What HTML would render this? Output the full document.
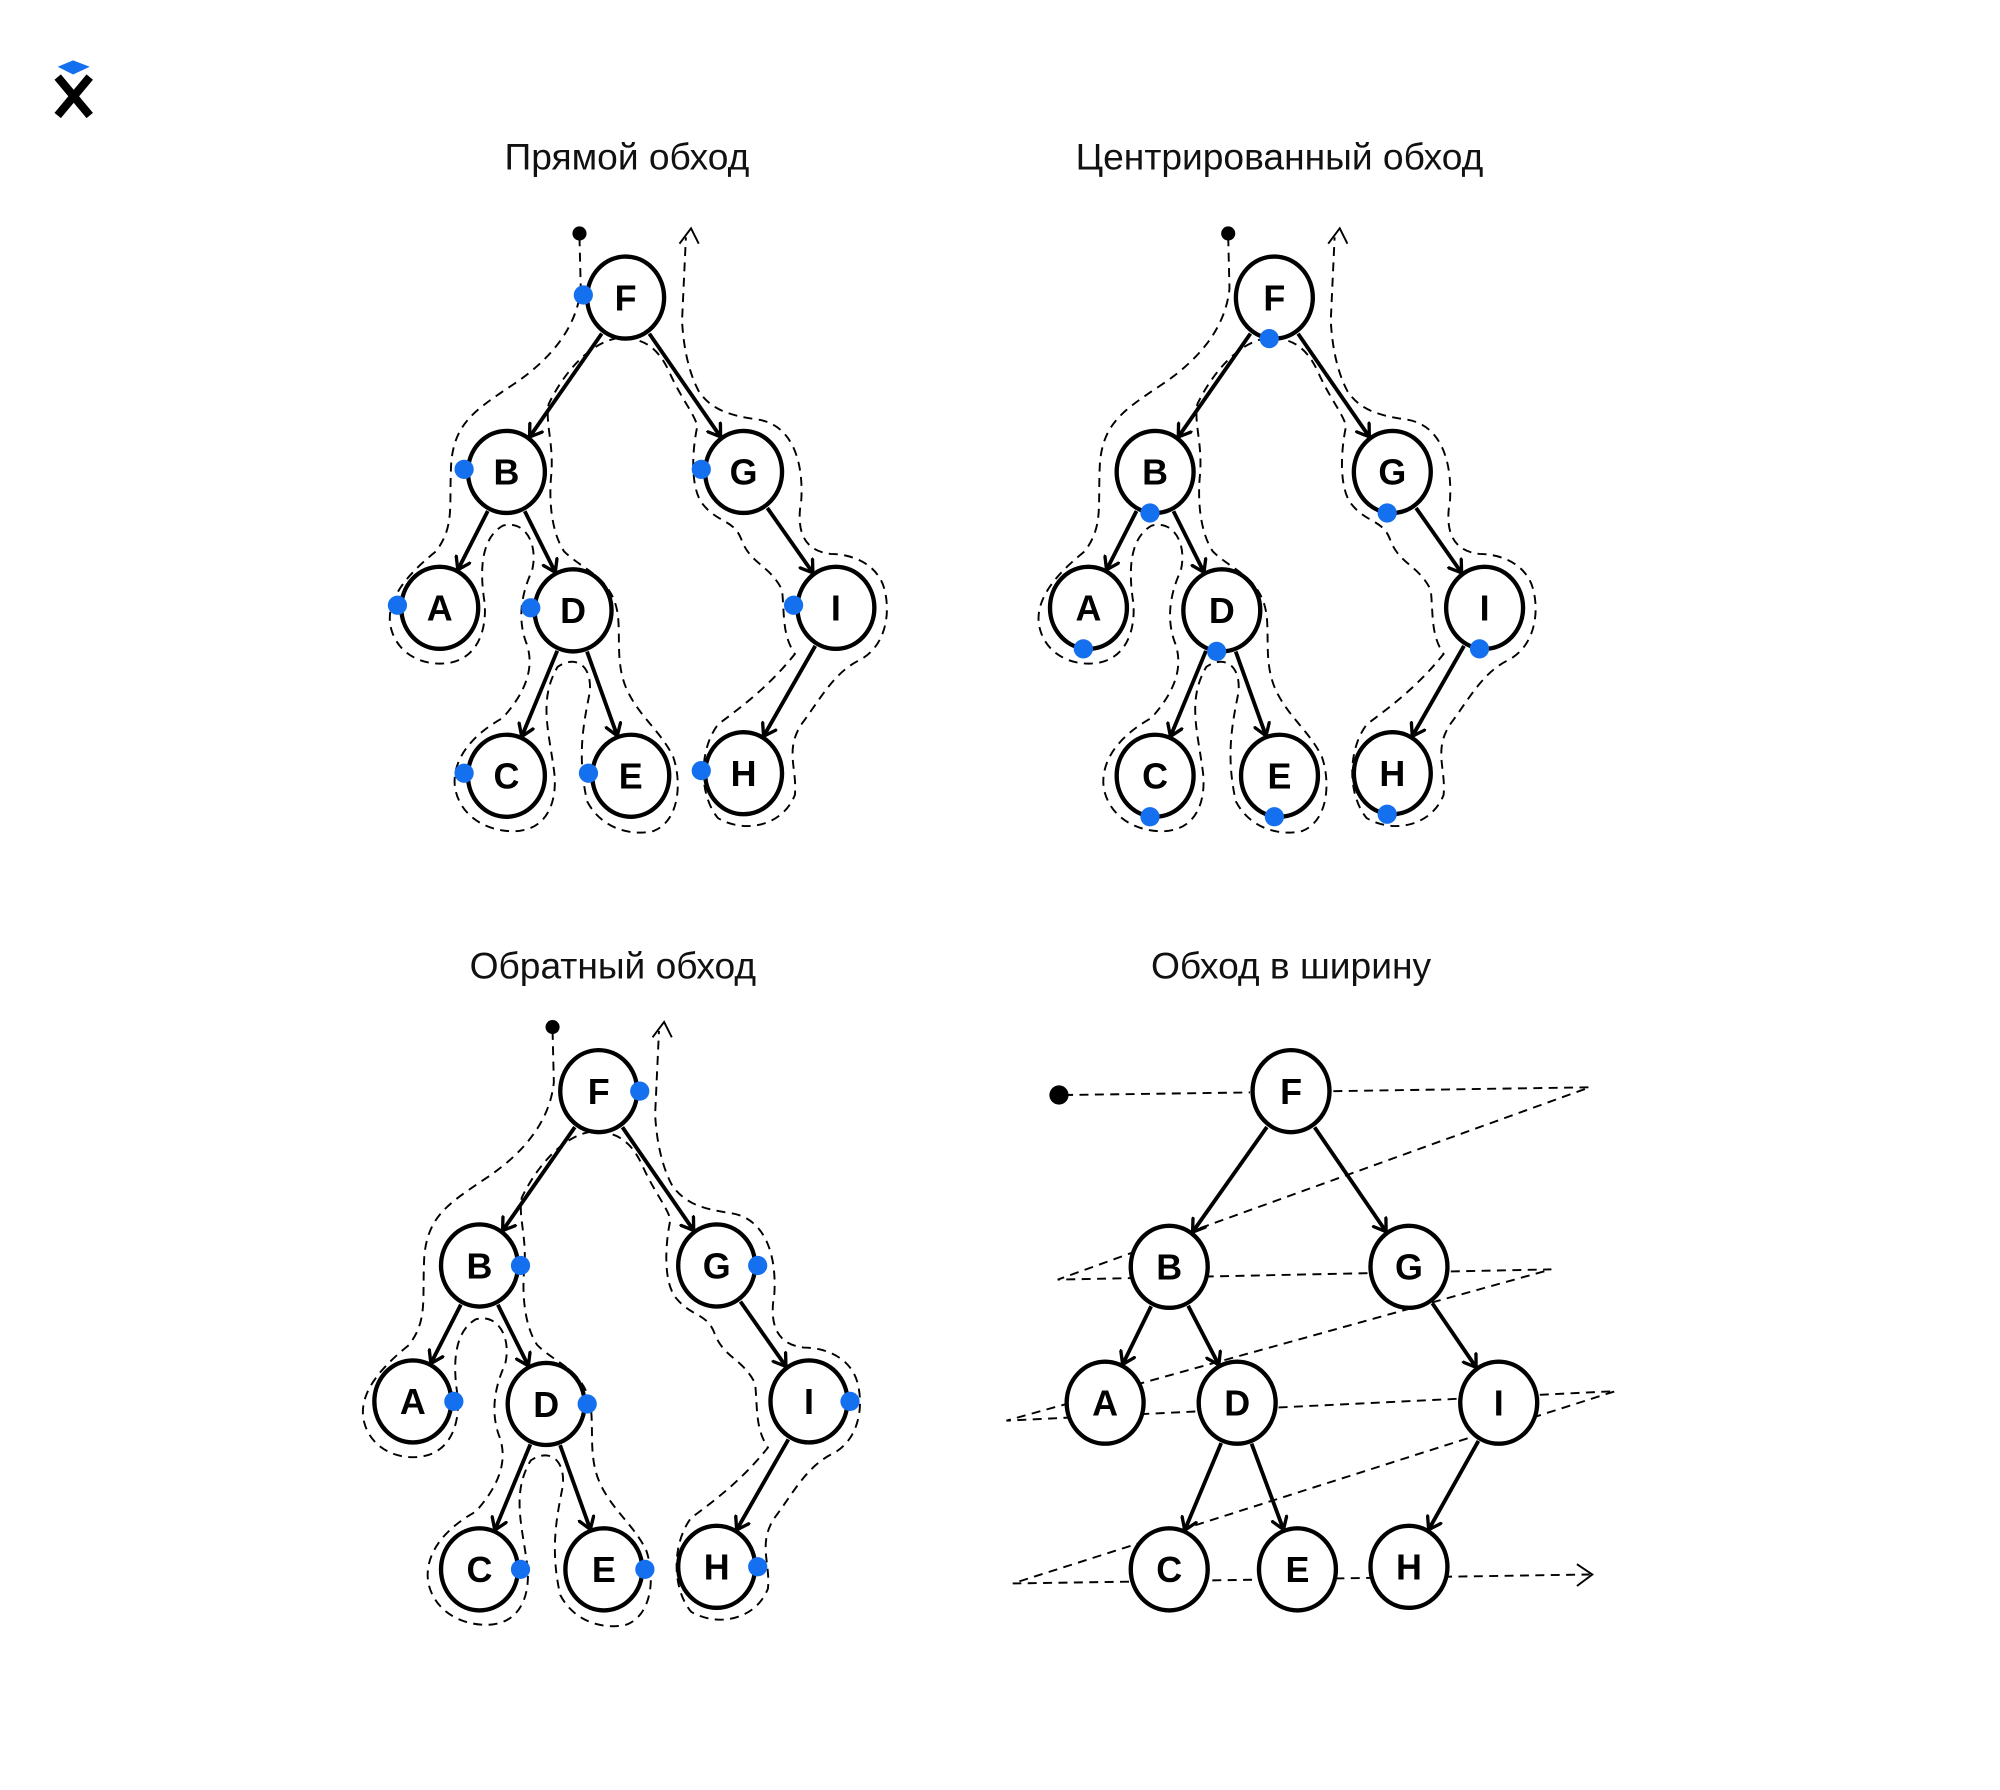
<!DOCTYPE html>
<html><head><meta charset="utf-8"><style>
html,body{margin:0;padding:0;background:#fff;}
svg{display:block}
</style></head><body>
<svg id="s" width="2000" height="1790" viewBox="0 0 1560 1396" xmlns="http://www.w3.org/2000/svg">
<defs>
<marker id="ar" markerWidth="14" markerHeight="14" refX="10" refY="7" orient="auto" markerUnits="userSpaceOnUse">
<path d="M1,1 L10,7 L1,13" fill="none" stroke="#000" stroke-width="2.6" stroke-linecap="round" stroke-linejoin="round"/>
</marker>
<g id="contour" fill="none" stroke="#000" stroke-width="1.5" stroke-dasharray="7,5">
<path d="M452,185 L453,225 C450,255 430,280 400,300 C370,320 355,330 352,360 C350,395 355,410 340,430 C315,450 300,470 305,490 C310,510 330,520 350,517 C370,514 380,495 378,470 C374,445 375,420 392,410 C410,405 420,425 415,445 C408,460 403,480 410,500 C418,520 410,540 392,560 C365,575 352,595 355,615 C360,640 385,650 405,648 C430,645 435,620 432,600 C428,570 420,545 435,520 C450,510 462,520 460,540 C455,565 450,590 458,625 C470,648 495,652 510,648 C530,640 532,610 525,590 C515,570 500,560 490,540 C480,520 484,500 482,480 C478,450 455,445 440,430 C430,415 428,390 430,370 C432,345 425,330 428,315 C440,290 460,268 480,264 C500,262 513,270 522,290 C532,312 540,320 544,332 C540,350 538,380 548,393 C560,408 572,405 578,420 C585,440 600,440 610,460 C612,480 610,495 620,510 C600,535 580,550 560,565 C545,585 545,620 560,638 C580,650 610,645 620,620 C622,600 612,585 625,565 C640,545 650,525 670,515 C690,505 695,480 690,460 C685,440 665,432 648,432 C630,430 620,418 625,390 C627,355 615,330 590,327 C570,324 555,320 545,305 C537,290 533,270 532,250 L535,185"/>
<path d="M530,190 L539,178 L545,190" stroke-dasharray="none"/>
<circle cx="452" cy="182" r="5.5" fill="#000" stroke="none"/>
</g>
</defs>
<g id="logo">
<path d="M45,52 L57,47 L70,52 L57,58 Z" fill="#1570ef"/>
<path d="M45,60 L70,90 M70,60 L45,90" stroke="#000" stroke-width="6.5"/>
</g>
<g font-family="Liberation Sans, DejaVu Sans, sans-serif" font-size="29" text-anchor="middle" fill="#111">
<text x="489" y="132">Прямой обход</text>
<text x="998" y="132">Центрированный обход</text>
<text x="478" y="763">Обратный обход</text>
<text x="1007" y="763">Обход в ширину</text>
</g>
<use href="#contour"/>
<use href="#contour" transform="translate(506,0)"/>
<use href="#contour" transform="translate(-21,619)"/>
<g fill="none" stroke="#000" stroke-width="1.5" stroke-dasharray="7,5">
<path d="M830,854 L975,852 M1040,851 L1240,848 L825,998 L1210,990 L785,1108 L1260,1085 L790,1235 L1240,1228"/>
<path d="M1230,1220 L1242,1228 L1230,1237" stroke-dasharray="none"/>
</g>
<circle cx="826" cy="854" r="7.5" fill="#000"/>
<g id="trees"></g>
</svg>
<script>
var NS="http://www.w3.org/2000/svg",g=document.getElementById('trees');
var base={F:[488,232],B:[395,368],G:[580,368],A:[343,474],D:[447,476],I:[652,474],C:[395,605],E:[492,605],H:[580,603]};
var t4={F:[1007,851],B:[912,988],G:[1099,988],A:[862,1094],D:[965,1094],I:[1169,1094],C:[912,1224],E:[1012,1224],H:[1099,1222]};
var edges=[['F','B'],['F','G'],['B','A'],['B','D'],['G','I'],['D','C'],['D','E'],['I','H']];
function el(n,a){var e=document.createElementNS(NS,n);for(var k in a)e.setAttribute(k,a[k]);g.appendChild(e);return e;}
function tree(P,dot){
 edges.forEach(function(e){var a=P[e[0]],b=P[e[1]],dx=b[0]-a[0],dy=b[1]-a[1],L=Math.hypot(dx,dy),ux=dx/L,uy=dy/L;
  el('line',{x1:a[0]+ux*33,y1:a[1]+uy*34,x2:b[0]-ux*32,y2:b[1]-uy*33,stroke:'#000','stroke-width':3,'marker-end':'url(#ar)'});});
 for(var k in P){var p=P[k];
  el('ellipse',{cx:p[0],cy:p[1],rx:30,ry:32,fill:'#fff',stroke:'#000','stroke-width':3.4});
  var t=el('text',{x:p[0],y:p[1]+10,'font-family':'Liberation Sans, sans-serif','font-size':28,'text-anchor':'middle','font-weight':'bold'});t.textContent=k;
  if(dot){var d=dot(p);el('circle',{cx:d[0],cy:d[1],r:7.5,fill:'#1570ef'});}
 }
}
function sh(dx,dy){var o={};for(var k in base)o[k]=[base[k][0]+dx,base[k][1]+dy];return o;}
tree(base,function(p){return[p[0]-33,p[1]-2];});
tree(sh(506,0),function(p){return[p[0]-4,p[1]+32];});
tree(sh(-21,619),function(p){return[p[0]+32,p[1]];});
tree(t4,null);
</script>
</body></html>
